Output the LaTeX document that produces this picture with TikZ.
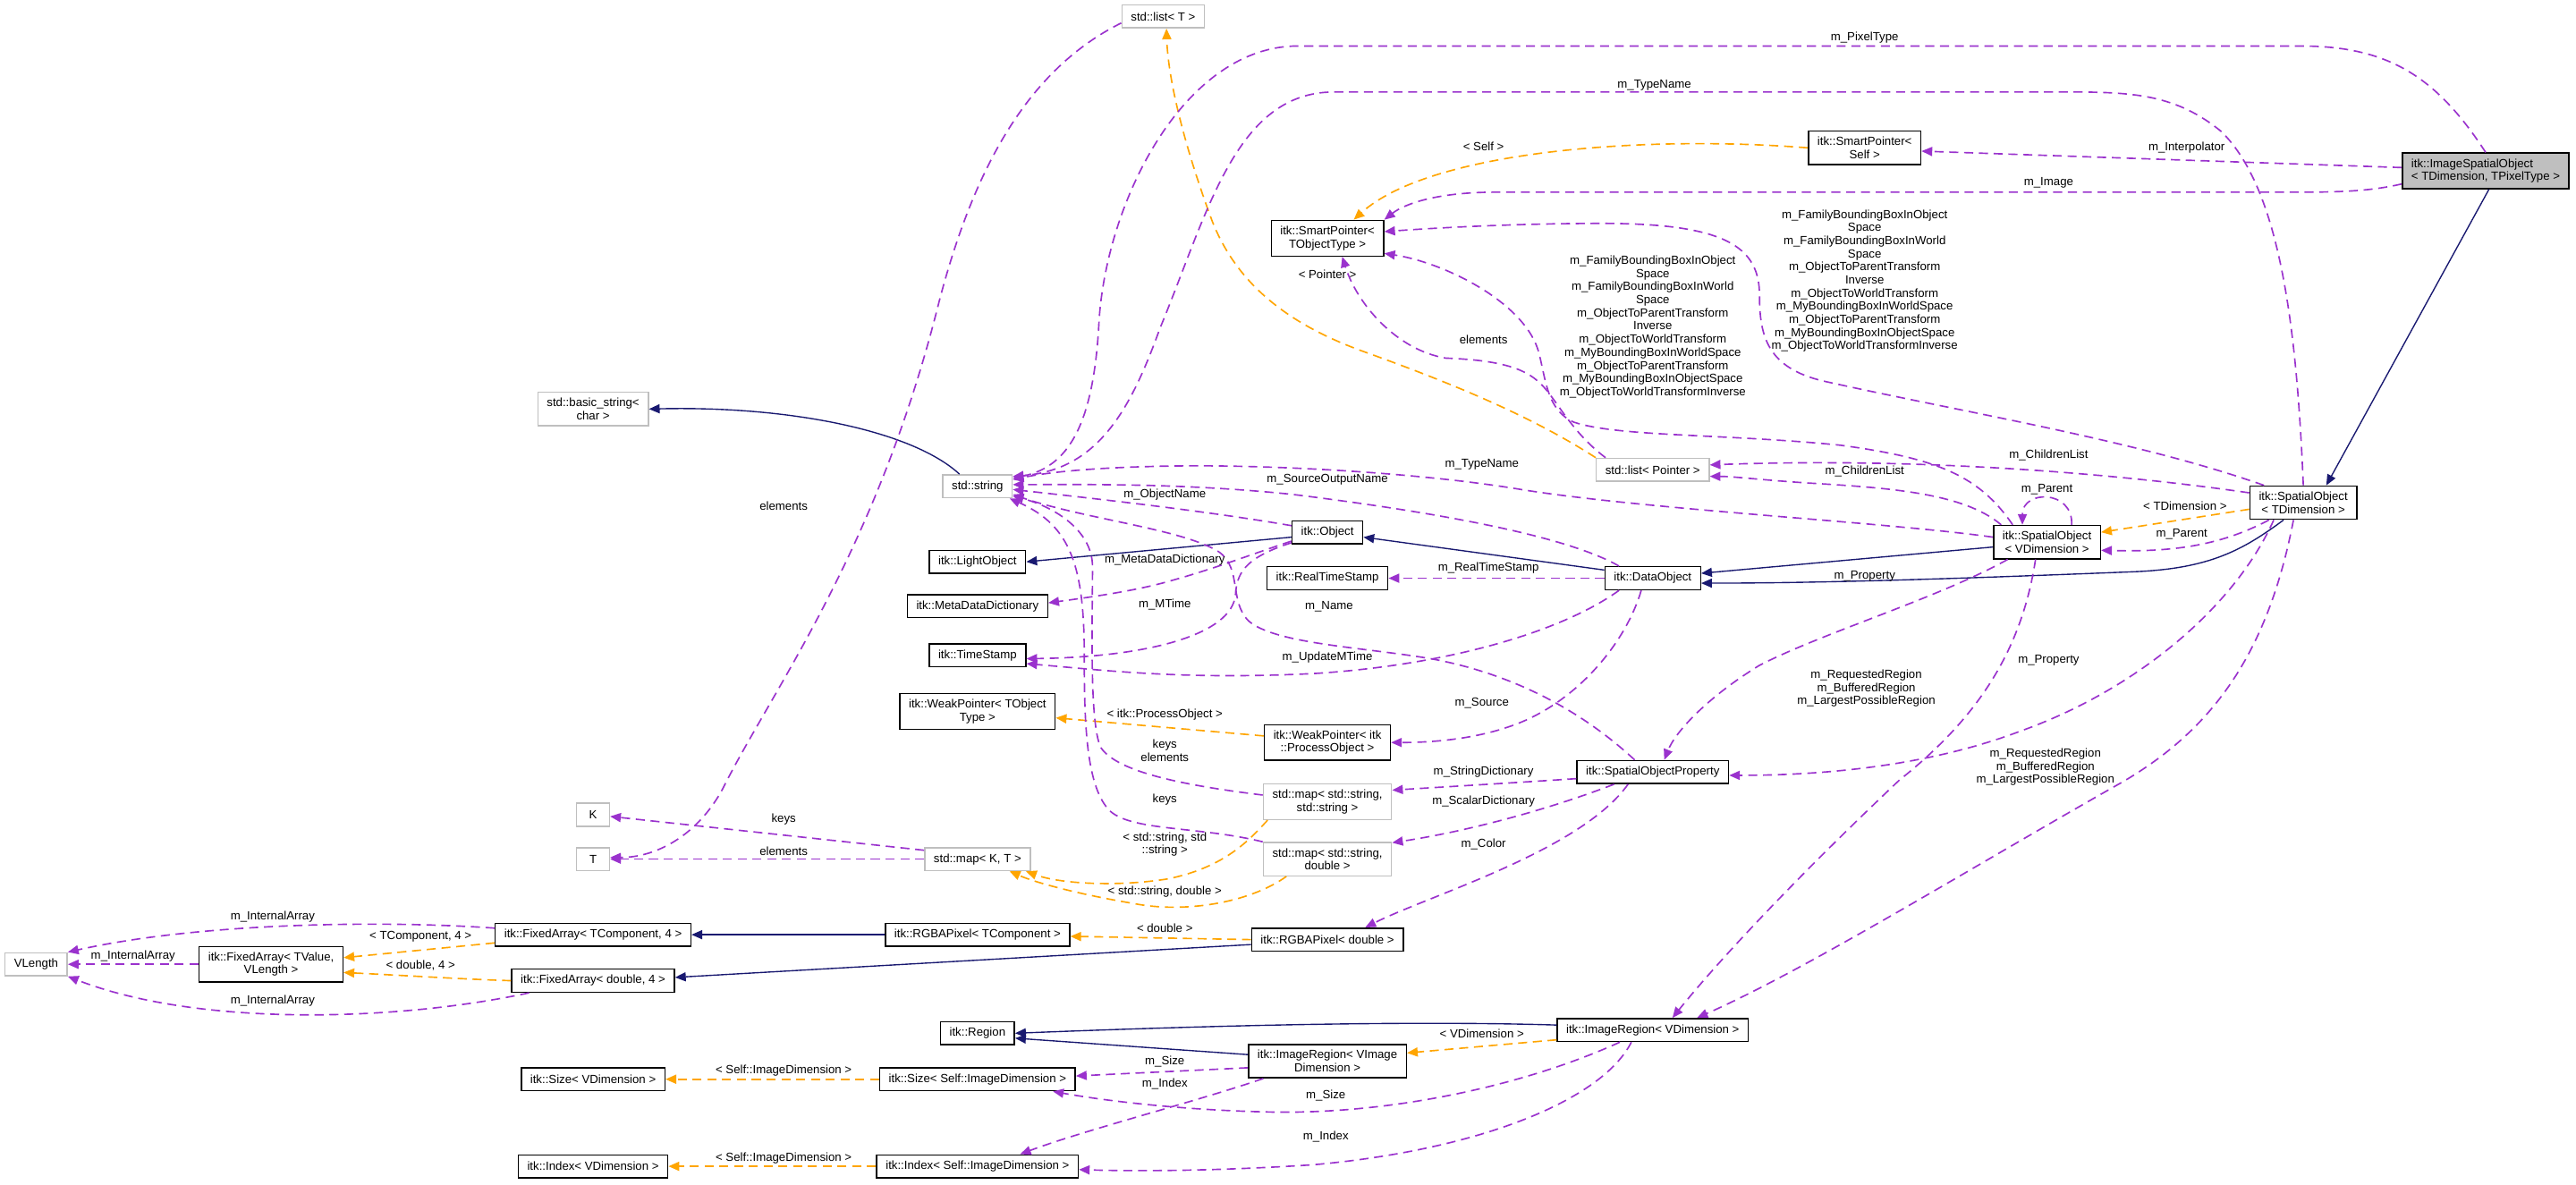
\documentclass[tikz,border=0pt]{standalone}
\usepackage{fontspec}
\setmainfont{Liberation Sans}
\usetikzlibrary{arrows.meta, calc}
\definecolor{inhblue}{HTML}{191970}
\definecolor{usepurple}{HTML}{9A32CD}
\definecolor{tplorange}{HTML}{FFA500}
\definecolor{extgray}{HTML}{BFBFBF}
\newcommand{\boxfont}{\fontsize{7.2pt}{8pt}\selectfont}
\newcommand{\bboxfields}{m\_FamilyBoundingBoxInObject\\Space\\m\_FamilyBoundingBoxInWorld\\Space\\m\_ObjectToParentTransform\\Inverse\\m\_ObjectToWorldTransform\\m\_MyBoundingBoxInWorldSpace\\m\_ObjectToParentTransform\\m\_MyBoundingBoxInObjectSpace\\m\_ObjectToWorldTransformInverse}
\newcommand{\regionfields}{m\_RequestedRegion\\m\_BufferedRegion\\m\_LargestPossibleRegion}
\tikzset{
    clsbox/.style={draw=black, fill=white, line width=0.8pt, inner xsep=5.5pt, inner ysep=3.5pt, minimum height=14pt, align=center, font=\boxfont},
    extbox/.style={clsbox, draw=extgray},
    mainbox/.style={clsbox, fill=extgray, align=left},
}

\begin{document}
\begin{tikzpicture}[x=1pt, y=-1pt, >={Triangle[length=6.5pt, width=5.5pt]}, every node/.style={font=\boxfont}]
\tikzset{
  inh/.style={->, draw=inhblue, line width=0.75pt},
  use/.style={->, draw=usepurple, line width=0.9pt, dash pattern=on 5.5pt off 3.5pt},
  tpl/.style={->, draw=tplorange, line width=0.9pt, dash pattern=on 5.5pt off 3.5pt},
  elbl/.style={inner sep=0.5pt, align=center},
}
\useasboundingbox (0,0) rectangle (1568,721);
% top and right
\node[mainbox] (iso) at (1513,104) {itk::ImageSpatialObject\\< TDimension, TPixelType >};
\node[clsbox] (spself) at (1135,90) {itk::SmartPointer<\\Self >};
\node[extbox] (lstT) at (708,10) {std::list< T >};
\node[clsbox] (sptobj) at (808,145) {itk::SmartPointer<\\TObjectType >};
\node[clsbox] (sot) at (1402,306) {itk::SpatialObject\\< TDimension >};
\node[clsbox] (sov) at (1246,330) {itk::SpatialObject\\< VDimension >};
\node[extbox] (lstP) at (1006,286) {std::list< Pointer >};
% middle column
\node[extbox] (bstr) at (361,249) {std::basic\_string<\\char >};
\node[extbox] (str) at (595,296) {std::string};
\node[clsbox] (obj) at (808,324) {itk::Object};
\node[clsbox] (lobj) at (595,342) {itk::LightObject};
\node[clsbox] (mdd) at (595,369) {itk::MetaDataDictionary};
\node[clsbox] (rts) at (808,352) {itk::RealTimeStamp};
\node[clsbox] (dobj) at (1006,352) {itk::DataObject};
\node[clsbox] (ts) at (595,399) {itk::TimeStamp};
\node[clsbox] (wpT) at (595,433) {itk::WeakPointer< TObject\\Type >};
\node[clsbox] (wpPO) at (808,452) {itk::WeakPointer< itk\\::ProcessObject >};
\node[clsbox] (sop) at (1006,470) {itk::SpatialObjectProperty};
\node[extbox] (mapSS) at (808,488) {std::map< std::string,\\std::string >};
\node[extbox] (mapSD) at (808,523) {std::map< std::string,\\double >};
\node[extbox, minimum width=20pt] (nK) at (361,496) {K};
\node[extbox, minimum width=20pt] (nT) at (361,523) {T};
\node[extbox] (mapKT) at (595,523) {std::map< K, T >};
% bottom
\node[extbox] (vlen) at (22,587) {VLength};
\node[clsbox] (faTV) at (165,587) {itk::FixedArray< TValue,\\VLength >};
\node[clsbox] (faTC) at (361,569) {itk::FixedArray< TComponent, 4 >};
\node[clsbox] (faD) at (361,597) {itk::FixedArray< double, 4 >};
\node[clsbox] (rgbaTC) at (595,569) {itk::RGBAPixel< TComponent >};
\node[clsbox] (rgbaD) at (808,572) {itk::RGBAPixel< double >};
\node[clsbox] (reg) at (595,629) {itk::Region};
\node[clsbox] (irVI) at (808,646) {itk::ImageRegion< VImage\\Dimension >};
\node[clsbox] (irVD) at (1006,627) {itk::ImageRegion< VDimension >};
\node[clsbox] (szVD) at (361,657) {itk::Size< VDimension >};
\node[clsbox] (ixVD) at (361,710) {itk::Index< VDimension >};
\node[clsbox] (szS) at (595,657) {itk::Size< Self::ImageDimension >};
\node[clsbox] (ixS) at (595,710) {itk::Index< Self::ImageDimension >};
% inheritance
\draw[inh] ($(iso.south)+(2,0)$) -- ($(sot.north)+(14,0)$);
\draw[inh] ($(sot.south)+(-12,0)$) .. controls (1365,335) and (1345,346) .. (1300,348) .. controls (1200,352) and (1110,355) .. ($(dobj.east)+(0,3)$);
\draw[inh] ($(sov.west)+(0,3)$) -- ($(dobj.east)+(0,-3)$);
\draw[inh] ($(dobj.west)+(0,-5)$) -- ($(obj.east)+(0,3)$);
\draw[inh] ($(obj.west)+(0,3)$) -- (lobj.east);
\draw[inh] ($(str.north)+(-11,0)$) .. controls (555,262) and (480,247) .. (bstr.east);
\draw[inh] (rgbaTC.west) -- (faTC.east);
\draw[inh] ($(rgbaD.west)+(0,3)$) -- ($(faD.east)+(0,-2)$);
\draw[inh] ($(irVD.west)+(0,-3)$) .. controls (850,621) and (720,625) .. (reg.east);
\draw[inh] ($(irVI.west)+(0,-4)$) -- ($(reg.east)+(0,3)$);
% template instances
\draw[tpl] (spself.west) .. controls (1000,82) and (870,92) .. ($(sptobj.north)+(16,0)$) node[elbl] (lSelf) at (903,89) {< Self >};
\draw[tpl] (lstP.north west) .. controls (930,252) and (880,232) .. (830,214) .. controls (780,196) and (752,170) .. (738,135) .. controls (722,92) and (711,50) .. ($(lstT.south)+(2,0)$) node[elbl] (lPtr) at (808,167) {< Pointer >};
\draw[tpl] ($(sot.west)+(0,4)$) -- ($(sov.east)+(0,-6)$) node[elbl] (lTDim) at (1330,308) {< TDimension >};
\draw[tpl] ($(wpPO.west)+(0,-4)$) -- ($(wpT.east)+(0,4)$) node[elbl] (lProc) at (709,435) {< itk::ProcessObject >};
\draw[tpl] ($(mapSS.south west)+(3,0)$) .. controls (760,512) and (745,528) .. (711,535) .. controls (680,540) and (645,538) .. ($(mapKT.south east)+(-3,0)$) node[elbl] (lSS) at (709,514) {< std::string, std\\::string >};
\draw[tpl] ($(mapSD.south)+(-25,0)$) .. controls (760,550) and (720,556) .. (690,550) .. controls (660,545) and (632,538) .. ($(mapKT.south east)+(-13,0)$) node[elbl] (lSD) at (709,543) {< std::string, double >};
\draw[tpl] (rgbaD.west) -- ($(rgbaTC.east)+(0,1)$) node[elbl] (lDbl) at (709,565) {< double >};
\draw[tpl] ($(faTC.west)+(0,5)$) -- ($(faTV.east)+(0,-4)$) node[elbl] (lTC4) at (256,570) {< TComponent, 4 >};
\draw[tpl] (faD.west) .. controls (280,596) and (250,594) .. ($(faTV.east)+(0,5)$) node[elbl] (lD4) at (256,588) {< double, 4 >};
\draw[tpl] ($(irVD.west)+(0,6)$) -- ($(irVI.east)+(0,-5)$) node[elbl] (lVDim) at (902,629) {< VDimension >};
\draw[tpl] (szS.west) -- (szVD.east) node[elbl] (lSzDim) at (477,652) {< Self::ImageDimension >};
\draw[tpl] (ixS.west) -- (ixVD.east) node[elbl] (lIxDim) at (477,705) {< Self::ImageDimension >};
% members
\draw[use] (iso.north) .. controls (1482,45) and (1452,28) .. (1400,28) -- (790,28) .. controls (722,28) and (674,120) .. (669,195) .. controls (666,255) and (652,284) .. ($(str.east)+(0,-5)$) node[elbl] (lPix) at (1135,23) {m\_PixelType};
\draw[use] (sot.north) .. controls (1398,200) and (1388,115) .. (1352,80) .. controls (1325,58) and (1300,56) .. (1260,56) -- (812,56) .. controls (752,56) and (735,130) .. (706,200) .. controls (688,250) and (668,286) .. ($(str.east)+(0,-6)$) node[elbl] (lType1) at (1007,52) {m\_TypeName};
\draw[use] ($(iso.west)+(0,-2)$) -- ($(spself.east)+(0,2)$) node[elbl] (lInterp) at (1331,90) {m\_Interpolator};
\draw[use] ($(iso.west)+(0,8)$) .. controls (1440,117) and (1420,117) .. (1390,117) -- (910,117) .. controls (875,117) and (855,124) .. (sptobj.north east) node[elbl] (lImg) at (1247,111) {m\_Image};
\draw[use] ($(sot.north west)+(9,0)$) .. controls (1300,268) and (1200,252) .. (1110,232) .. controls (1076,224) and (1071,205) .. (1071,180) .. controls (1071,150) and (1050,136) .. (975,136) .. controls (920,136) and (870,139) .. ($(sptobj.east)+(0,-4)$) node[elbl] (lBoxT) at (1135,171) {\bboxfields};
\draw[use] ($(sov.north west)+(12,0)$) .. controls (1205,290) and (1180,279) .. (1120,271) .. controls (1050,264) and (985,266) .. (958,257) .. controls (942,250) and (941,232) .. (937,216) .. controls (930,185) and (880,160) .. ($(sptobj.south east)+(0,-2)$) node[elbl] (lBoxV) at (1006,199) {\bboxfields};
\draw[use] ($(lstP.north west)+(6,0)$) .. controls (955,262) and (946,240) .. (936,232) .. controls (925,222) and (905,219) .. (880,218) .. controls (850,213) and (826,185) .. ($(sptobj.south)+(9,0)$) node[elbl] (lElem1) at (903,207) {elements};
\draw[use] ($(sot.west)+(0,-6)$) .. controls (1300,290) and (1180,278) .. ($(lstP.east)+(0,-3)$) node[elbl] (lChildT) at (1247,277) {m\_ChildrenList};
\draw[use] ($(sov.north west)+(5,0)$) .. controls (1195,300) and (1150,297) .. (1100,294) .. controls (1070,292) and (1055,290) .. ($(lstP.east)+(0,4)$) node[elbl] (lChildV) at (1135,287) {m\_ChildrenList};
\draw[use] ($(sov.west)+(0,-3)$) .. controls (1150,318) and (1000,310) .. (926,298) .. controls (860,287) and (760,282) .. (700,284) .. controls (660,285) and (635,288) .. ($(str.east)+(0,-4)$) node[elbl] (lType2) at (902,283) {m\_TypeName};
\draw[use] ($(dobj.north west)+(9,0)$) .. controls (960,330) and (900,315) .. (787,301) .. controls (720,294) and (660,295) .. ($(str.east)+(0,-1)$) node[elbl] (lSrcOut) at (808,292) {m\_SourceOutputName};
\draw[use] ($(obj.west)+(0,-4)$) .. controls (740,312) and (680,305) .. ($(str.east)+(0,2)$) node[elbl] (lObjName) at (709,301) {m\_ObjectName};
\draw[use] ($(sop.north)+(-11,0)$) .. controls (962,432) and (920,410) .. (871,401) .. controls (830,394) and (776,392) .. (760,378) .. controls (748,366) and (756,346) .. (742,336) .. controls (720,322) and (660,316) .. ($(str.east)+(0,5)$) node[elbl] (lName) at (809,369) {m\_Name};
\draw[use] ($(mapSS.west)+(0,-4)$) .. controls (720,478) and (680,470) .. (670,455) .. controls (663,440) and (665,380) .. (665,345) .. controls (665,322) and (640,308) .. ($(str.east)+(0,6)$) node[elbl] (lKE) at (709,457) {keys\\elements};
\draw[use] (mapSD.north west) .. controls (730,503) and (690,506) .. (676,494) .. controls (661,480) and (660,440) .. (660,400) .. controls (660,345) and (652,320) .. ($(str.south east)+(-2,0)$) node[elbl] (lKeys1) at (709,487) {keys};
\draw[use] ($(obj.south west)+(0,-2)$) .. controls (760,338) and (740,346) .. (711,354) .. controls (690,360) and (660,364) .. ($(mdd.east)+(0,-2)$) node[elbl] (lMeta) at (709,341) {m\_MetaDataDictionary};
\draw[use] ($(obj.south west)+(0,-1)$) .. controls (756,340) and (753,350) .. (752,362) .. controls (750,386) and (700,400) .. ($(ts.east)+(0,2)$) node[elbl] (lMTime) at (709,368) {m\_MTime};
\draw[use] (dobj.west) -- (rts.east) node[elbl] (lRTS) at (906,346) {m\_RealTimeStamp};
\draw[use] ($(dobj.south west)+(9,0)$) .. controls (950,385) and (880,405) .. (800,410) .. controls (720,414) and (672,408) .. ($(ts.east)+(0,5)$) node[elbl] (lUpd) at (808,400) {m\_UpdateMTime};
\draw[use] ($(dobj.south)+(-7,0)$) .. controls (990,390) and (962,425) .. (925,440) .. controls (900,450) and (872,452) .. (wpPO.east) node[elbl] (lSrc) at (902,428) {m\_Source};
\draw[use] ($(sov.south west)+(9,0)$) .. controls (1180,364) and (1110,385) .. (1071,405) .. controls (1040,424) and (1020,445) .. ($(sop.north)+(7,0)$) node[elbl] (lPropV) at (1135,351) {m\_Property};
\draw[use] ($(sot.south)+(-18,0)$) .. controls (1360,370) and (1300,420) .. (1230,445) .. controls (1180,464) and (1120,472) .. ($(sop.east)+(0,2)$) node[elbl] (lPropT) at (1247,402) {m\_Property};
\draw[use] ($(sov.south)+(-7,0)$) .. controls (1230,400) and (1200,440) .. (1156,475) .. controls (1100,528) and (1050,580) .. ($(irVD.north)+(12,0)$) node[elbl] (lRegV) at (1136,419) {\regionfields};
\draw[use] ($(sot.south)+(-6,0)$) .. controls (1380,400) and (1345,445) .. (1292,476) .. controls (1200,528) and (1100,590) .. ($(irVD.north)+(27,0)$) node[elbl] (lRegT) at (1245,467) {\regionfields};
\draw[use] ($(sot.south west)+(12,0)$) .. controls (1350,333) and (1320,336) .. ($(sov.east)+(0,5)$) node[elbl] (lParT) at (1328,325) {m\_Parent};
\draw[use] ($(sov.north)+(15,0)$) .. controls (1262,298) and (1231,298) .. ($(sov.north)+(-15,0)$) node[elbl] (lParV) at (1246,298) {m\_Parent};
\draw[use] ($(sop.west)+(0,4)$) .. controls (930,476) and (880,479) .. ($(mapSS.east)+(0,-7)$) node[elbl] (lStrD) at (903,470) {m\_StringDictionary};
\draw[use] ($(sop.south west)+(23,0)$) .. controls (950,490) and (900,505) .. ($(mapSD.east)+(0,-10)$) node[elbl] (lScaD) at (903,488) {m\_ScalarDictionary};
\draw[use] ($(sop.south)+(-15,0)$) .. controls (962,518) and (870,545) .. ($(rgbaD.north)+(23,0)$) node[elbl] (lColor) at (903,514) {m\_Color};
\draw[use] ($(lstT.west)+(0,4)$) .. controls (622,44) and (590,110) .. (570,190) .. controls (532,338) and (470,420) .. (440,480) .. controls (425,508) and (400,522) .. ($(nT.east)+(0,-1)$) node[elbl] (lElem2) at (477,308) {elements};
\draw[use] ($(mapKT.north west)+(0,2)$) -- ($(nK.east)+(0,1)$) node[elbl] (lKeys2) at (477,499) {keys};
\draw[use] (mapKT.west) -- (nT.east) node[elbl] (lElem3) at (477,518) {elements};
\draw[use] ($(faTC.west)+(0,-4)$) .. controls (230,560) and (120,562) .. (vlen.north east) node[elbl] (lArr1) at (166,558) {m\_InternalArray};
\draw[use] (faTV.west) -- (vlen.east) node[elbl] (lArr2) at (81,582) {m\_InternalArray};
\draw[use] ($(faD.south west)+(11,0)$) .. controls (240,622) and (120,625) .. (vlen.south east) node[elbl] (lArr3) at (166,609) {m\_InternalArray};
\draw[use] ($(irVI.west)+(0,4)$) -- ($(szS.east)+(0,-2)$) node[elbl] (lSize1) at (709,646) {m\_Size};
\draw[use] ($(irVI.south)+(-39,0)$) .. controls (730,670) and (660,688) .. ($(ixS.north)+(26,0)$) node[elbl] (lIdx1) at (709,660) {m\_Index};
\draw[use] ($(irVD.south)+(-20,0)$) .. controls (930,660) and (850,678) .. (776,677) .. controls (720,676) and (672,670) .. ($(szS.south east)+(-14,0)$) node[elbl] (lSize2) at (807,667) {m\_Size};
\draw[use] ($(irVD.south)+(-13,0)$) .. controls (975,670) and (900,700) .. (800,709) .. controls (740,713) and (690,713) .. ($(ixS.east)+(0,2)$) node[elbl] (lIdx2) at (807,692) {m\_Index};
\end{tikzpicture}
\end{document}
